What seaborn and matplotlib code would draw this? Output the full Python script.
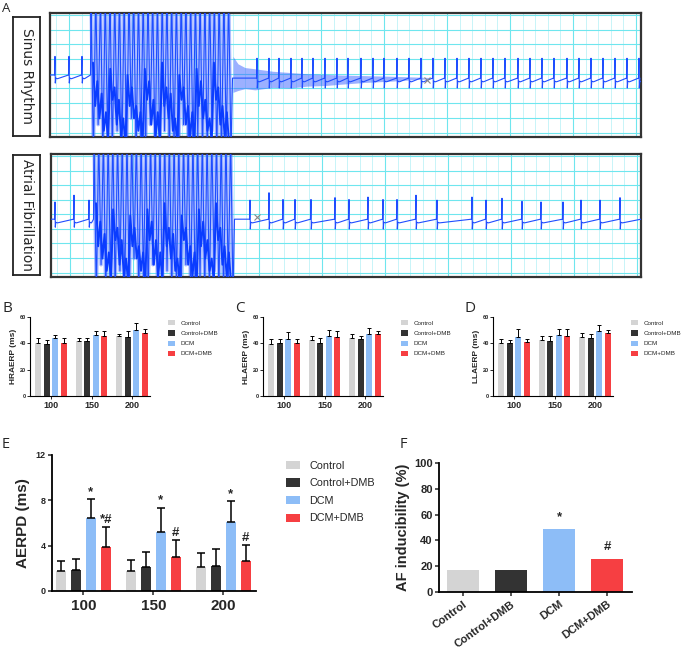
import numpy as np
import pandas as pd
import matplotlib.pyplot as plt
import seaborn as sns

# ---------------- data ----------------
groups = ['Control', 'Control+DMB', 'DCM', 'DCM+DMB']
rates = ['100', '150', '200']
colors = ['#d4d4d4', '#333333', '#8dbdf7', '#f63f42']

# rows = groups, columns = 100 / 150 / 200
hra_mean = [[40.5, 42.0, 45.2], [39.8, 42.0, 45.0], [44.2, 46.4, 50.4], [40.5, 45.4, 47.7]]
hra_err = [[3.2, 2.0, 2.0], [2.7, 2.4, 4.1], [2.5, 3.2, 5.2], [3.9, 4.0, 3.4]]
hla_mean = [[39.8, 42.2, 44.0], [40.0, 40.5, 43.0], [43.0, 45.7, 47.4], [40.5, 44.7, 46.9]]
hla_err = [[3.2, 3.2, 3.4], [3.2, 3.2, 2.9], [5.9, 4.2, 4.6], [2.5, 4.9, 2.5]]
lla_mean = [[40.5, 42.7, 44.7], [40.0, 41.7, 44.0], [44.7, 46.4, 49.1], [40.7, 45.4, 47.7]]
lla_err = [[2.7, 3.2, 3.0], [2.5, 3.5, 3.4], [5.9, 4.5, 4.5], [2.5, 5.5, 2.7]]

aerpd_mean = [[1.74, 1.80, 2.10], [1.89, 2.12, 2.21], [6.40, 5.25, 6.05], [3.92, 3.04, 2.68]]
aerpd_err = [[0.92, 0.90, 1.26], [0.97, 1.36, 1.51], [1.70, 2.10, 1.85], [1.74, 1.47, 1.39]]
aerpd_marks = [['', '', ''], ['', '', ''], ['*', '*', '*'], ['*#', '#', '#']]

af_inducibility = [16.7, 16.7, 48.5, 25.5]
af_marks = ['', '', '*', '#']

# ECG traces (time in ms, amplitude in mV)
sr_spikes_pre = [50, 190, 320]
sr_burst = [410, 1810]
sr_spikes_post = [2070, 2190, 2290, 2410, 2520, 2630, 2750, 2870, 2980, 3110, 3230,
                  3340, 3470, 3590, 3710, 3830, 3950, 4070, 4190, 4310, 4430, 4550,
                  4680, 4800, 4920, 5040, 5170, 5290, 5410, 5530, 5650, 5770, 5890]
sr_band_t = [1830, 1880, 1950, 2050, 2230, 2400, 2570, 2750, 2900, 3150, 3400, 3800]
sr_band_lo = [-0.28, -0.25, -0.22, -0.24, -0.20, -0.21, -0.18, -0.17, -0.15, -0.12, -0.10, -0.06]
sr_band_hi = [0.30, 0.18, 0.12, 0.10, 0.06, 0.04, 0.02, 0.01, 0.00, -0.01, -0.02, -0.04]
sr_cursor = [3770, -0.08]

af_spikes_pre = [40, 230, 380]
af_up_pre = [0.28, 0.39, 0.31]
af_burst = [430, 1820]
af_spikes_post = [1990, 2180, 2320, 2440, 2600, 2840, 2980, 3170, 3320, 3460, 3650,
                  3860, 4210, 4350, 4510, 4710, 4900, 5120, 5300, 5490, 5690]
af_up_post = [0.31, 0.43, 0.32, 0.32, 0.32, 0.35, 0.32, 0.36, 0.32, 0.32, 0.39,
              0.31, 0.36, 0.31, 0.34, 0.29, 0.28, 0.28, 0.31, 0.31, 0.35]
af_cursor = [2060, -0.03]

burst_light = [1.3, -1.3, 1.3, -0.8, 1.3, -1.3, 1.3, -1.0, 1.3, -1.3, 1.3, -0.9,
               1.3, -1.3, 1.3, -1.3, 1.3, -0.7, 1.3, -1.3, 1.3, -1.1, 1.3, -1.3,
               1.3, -0.8, 1.3, -1.3, 1.3, -1.3, 1.3, -0.9, 1.3, -1.3, 1.3, -1.2,
               1.3, -1.3, 1.3, -0.8, 1.3, -1.3, 1.3, -1.3, 1.3, -1.0, 1.3, -1.3,
               1.3, -1.3, 1.3, -0.9, 1.3, -1.3, 1.3, -1.3, 1.3, -1.1, 1.3, -1.3]
burst_dark = [0.2, -0.5, -0.1, -0.7, -0.3, -0.9, -0.6, -1.1,
              0.1, -0.4, -0.2, -0.8, -0.4, -1.0, -0.7, -1.1,
              0.0, -0.5, -0.2, -0.7, -0.5, -0.9, -0.6, -1.1,
              0.1, -0.4, -0.1, -0.8, -0.4, -1.0, -0.6, -1.1,
              0.2, -0.5, -0.2, -0.7, -0.3, -0.9, -0.7, -1.1,
              0.0, -0.4, -0.2, -0.8, -0.5, -1.0, -0.6, -1.1,
              0.1, -0.5, -0.1, -0.7, -0.4, -0.9, -0.7, -1.1,
              0.2, -0.4, -0.2, -0.8, -0.5, -1.0, -0.6, -1.1]

# ---------------- style ----------------
sns.set_style('ticks')
plt.rcParams['font.family'] = ['Liberation Sans', 'DejaVu Sans']
plt.rcParams['font.weight'] = 'bold'

W, H = 685, 652
fig = plt.figure(figsize=(W / 100, H / 100), dpi=100)


def px_axes(x0, y0, x1, y1):
    return fig.add_axes([x0 / W, 1 - y1 / H, (x1 - x0) / W, (y1 - y0) / H])


def letter(x, y, s, size=10):
    fig.text(x / W, 1 - y / H, s, fontsize=size, fontweight='normal',
             family=['Open Sans', 'DejaVu Sans'], va='top', ha='left')


def beats(spikes, ups, base, down):
    t, v = [], []
    for s, u in zip(spikes, ups):
        t += [s - 5, s, s + 3, s + 8, s + 25]
        v += [base, base + u, base - down, base - 0.05, base - 0.06]
    return t, v


def trace_panel(box, label_box, name, name_size, spikes_pre, ups_pre, burst, spikes_post,
                ups_post, base_pre, base_post, xmax, cursor, band=None):
    lab = px_axes(*label_box)
    lab.set_xticks([])
    lab.set_yticks([])
    for sp in lab.spines.values():
        sp.set_linewidth(1.3)
        sp.set_color('#222222')
    lab.text(0.5, 0.5, name, rotation=-90, ha='center', va='center', fontsize=name_size,
             fontweight='normal', family=['DejaVu Sans'], transform=lab.transAxes)

    ax = px_axes(*box)
    ax.set_xlim(0, xmax)
    ax.set_ylim(-1, 1)
    ax.set_xticks(np.arange(190, xmax, 630))
    ax.set_xticks(np.arange(64, xmax, 126), minor=True)
    ax.set_yticks(np.arange(0.968, -1, -0.237))
    ax.grid(which='major', color='#6fe6ee', linewidth=0.8)
    ax.grid(which='minor', axis='x', color='#bff3f7', linewidth=0.6)
    ax.tick_params(which='both', length=0, labelbottom=False, labelleft=False)
    ax.set_axisbelow(True)
    for sp in ax.spines.values():
        sp.set_linewidth(1.6)
        sp.set_color('#333333')
        sp.set_visible(True)

    t1, v1 = beats(spikes_pre, ups_pre, base_pre, 0.13)
    t2, v2 = beats(spikes_post, ups_post, base_post, 0.16)
    bt = np.linspace(burst[0], burst[1], len(burst_light))
    dt = np.linspace(burst[0] + 20, burst[1] - 20, len(burst_dark))
    line_t = [0] + t1 + [burst[0] - 5] + list(bt) + [burst[1] + 15] + t2 + [xmax]
    line_v = [base_pre] + v1 + [base_pre] + burst_light + [base_post] + v2 + [base_post]

    if band is not None:
        ax.fill_between(band[0], band[1], band[2], color='#3a63ff', alpha=0.5,
                        linewidth=0, zorder=2)
    ax.plot(bt, burst_light, color='#6f8dff', linewidth=2.6, alpha=0.55, zorder=2)
    ax.plot(line_t, line_v, color='#1f4dff', linewidth=0.8, zorder=3)
    ax.plot(dt, burst_dark, color='#0a3cff', linewidth=1.4, zorder=3)
    ax.plot([cursor[0]], [cursor[1]], marker='x', color='#888888', markersize=5,
            markeredgewidth=0.8, zorder=4)


trace_panel((50, 13, 641, 137), (13, 17, 40, 136), 'Sinus Rhythm', 10,
            sr_spikes_pre, [0.30, 0.30, 0.30], sr_burst, sr_spikes_post,
            [0.32] * len(sr_spikes_post), 0.0, -0.05, 5910, sr_cursor,
            band=(sr_band_t, sr_band_lo, sr_band_hi))
trace_panel((51, 154, 641, 277), (13, 155, 40, 275), 'Atrial Fibrillation', 9.8,
            af_spikes_pre, af_up_pre, af_burst, af_spikes_post, af_up_post,
            -0.06, -0.06, 5900, af_cursor)
letter(2, 2, 'A', 9.5)


def grouped_bars(ax, means, errs, width, gap, lw, capsize):
    df = pd.DataFrame({'rate': np.tile(rates, len(groups)),
                       'group': np.repeat(groups, len(rates)),
                       'value': np.ravel(means)})
    sns.barplot(data=df, x='rate', y='value', hue='group', hue_order=groups,
                palette=colors, width=width, gap=gap, errorbar=None, linewidth=0,
                saturation=1, ax=ax)
    tops = []
    for cont, err in zip(ax.containers, errs):
        xs = [b.get_x() + b.get_width() / 2 for b in cont]
        hs = [b.get_height() for b in cont]
        ax.errorbar(xs, hs, yerr=[np.zeros(len(err)), err], fmt='none', ecolor='black',
                    elinewidth=lw, capsize=capsize, capthick=lw, zorder=1)
        tops.append([(x, h + e) for x, h, e in zip(xs, hs, err)])
    return tops


def style_axes(ax, lw):
    sns.despine(ax=ax)
    ax.spines['left'].set_linewidth(lw)
    ax.spines['bottom'].set_linewidth(lw)
    ax.spines['left'].set_color('black')
    ax.spines['bottom'].set_color('black')


# ---- B, C, D ----
small_specs = [((30, 317, 150, 396), hra_mean, hra_err, 'HRAERP (ms)', (2, 301), 'B'),
               ((263, 317, 383, 396), hla_mean, hla_err, 'HLAERP (ms)', (235, 301), 'C'),
               ((493, 317, 613, 396), lla_mean, lla_err, 'LLAERP (ms)', (465, 301), 'D')]
for rect, means, errs, ylab, pos, let in small_specs:
    ax = px_axes(*rect)
    grouped_bars(ax, means, errs, 0.84, 0.3, 0.7, 1.5)
    style_axes(ax, 0.8)
    ax.set_xlim(-0.52, 2.44)
    ax.set_ylim(0, 60)
    ax.set_yticks([0, 20, 40, 60])
    ax.tick_params(axis='y', labelsize=4, width=0.7, length=2, pad=1)
    ax.tick_params(axis='x', labelsize=6.5, width=0.7, length=2, pad=1.5)
    ax.set_xlabel('')
    ax.set_ylabel(ylab, fontsize=6, fontweight='bold', labelpad=2)
    handles, labels = ax.get_legend_handles_labels()
    ax.legend(handles, labels, loc='upper left', bbox_to_anchor=(1.1, 1.03),
              frameon=False, handlelength=1.2, handleheight=0.9,
              labelspacing=0.7, handletextpad=0.9,
              prop={'size': 4.5, 'weight': 'normal'})
    letter(*pos, let, 11)

# ---- E ----
ax = px_axes(52, 455, 256, 591)
tops = grouped_bars(ax, aerpd_mean, aerpd_err, 0.86, 0.33, 1.1, 3)
style_axes(ax, 1.3)
ax.set_xlim(-0.45, 2.47)
ax.set_ylim(0, 12)
ax.set_yticks([0, 4, 8, 12])
ax.tick_params(axis='y', labelsize=6.5, width=1.1, length=3, pad=1.5)
ax.tick_params(axis='x', labelsize=11, width=1.1, length=3, pad=3)
ax.set_xlabel('')
ax.set_ylabel('AERPD (ms)', fontsize=11, fontweight='bold', labelpad=4)
for grp_tops, grp_marks in zip(tops, aerpd_marks):
    for (x, y), m in zip(grp_tops, grp_marks):
        if m:
            ax.text(x, y + 0.1, m, ha='center', va='bottom', fontsize=9.5, fontweight='bold')
handles, labels = ax.get_legend_handles_labels()
ax.legend(handles, labels, loc='upper left', bbox_to_anchor=(1.1, 1.03),
          frameon=False, handlelength=1.25, handleheight=0.8, labelspacing=0.7,
          handletextpad=0.9, prop={'size': 7.8, 'weight': 'normal'})
letter(2, 437, 'E', 10.5)

# ---- F ----
ax = px_axes(439, 463, 632, 592)
sns.barplot(x=groups, y=af_inducibility, hue=groups, palette=colors, legend=False,
            width=0.67, linewidth=0, saturation=1, ax=ax)
style_axes(ax, 1.3)
ax.set_xlim(-0.5, 3.52)
ax.set_ylim(0, 100)
ax.set_yticks([0, 20, 40, 60, 80, 100])
ax.tick_params(axis='y', labelsize=8, width=1.1, length=3, pad=1.5)
ax.tick_params(axis='x', labelsize=8, width=1.1, length=3, pad=2)
plt.setp(ax.get_xticklabels(), rotation=36, ha='right', rotation_mode='anchor',
         fontweight='bold')
ax.set_ylabel('AF inducibility (%)', fontsize=10.5, fontweight='bold', labelpad=3)
for i, (v, m) in enumerate(zip(af_inducibility, af_marks)):
    if m:
        ax.text(i, v + 5, m, ha='center', va='bottom', fontsize=9.5, fontweight='bold')
letter(400, 437, 'F', 10.5)

fig.savefig('out.png', dpi=100)
